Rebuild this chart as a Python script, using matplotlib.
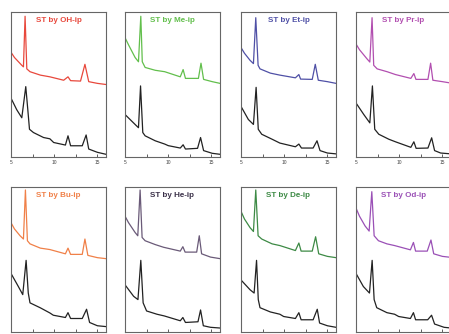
import matplotlib
matplotlib.use("Agg")
import matplotlib.pyplot as plt

plt.rcParams['font.family'] = ['Liberation Sans', 'DejaVu Sans']

titles = ["ST by OH-ip", "ST by Me-ip", "ST by Et-ip", "ST by Pr-ip",
          "ST by Bu-ip", "ST by He-ip", "ST by De-ip", "ST by Od-ip"]
colors = ["#e8483c", "#62bf4c", "#4f50a6", "#b24fb0",
          "#f08048", "#6a5a78", "#3d8a45", "#9a50b6"]
title_colors = ["#e8483c", "#62bf4c", "#4f50a6", "#b24fb0",
                "#f08048", "#3a3048", "#3d8a45", "#9a50b6"]

# colored (upper) traces: x (2-theta) and intensity
top_x = [
    [5, 5.4, 6.25, 6.44, 6.63, 6.83, 7.2, 8.4, 9.5, 11.1, 11.6, 11.9, 13.05, 13.56, 14.0, 15, 16],
    [5, 5.4, 6.17, 6.56, 6.83, 7.0, 7.33, 8.5, 9.6, 11.4, 11.73, 12.0, 13.5, 13.8, 14.1, 15.1, 16],
    [5, 5.4, 6.05, 6.44, 6.71, 6.98, 7.2, 8.4, 9.5, 11.3, 11.7, 11.9, 13.25, 13.6, 13.95, 15, 16],
    [5, 5.4, 6.28, 6.6, 6.86, 7.05, 7.45, 8.6, 9.57, 11.35, 11.7, 11.94, 13.33, 13.64, 13.9, 15, 16],
    [5, 5.4, 6.05, 6.44, 6.67, 6.9, 7.2, 8.4, 9.5, 11.3, 11.6, 11.9, 13.25, 13.56, 13.9, 15, 16],
    [5, 5.4, 6.17, 6.48, 6.75, 6.98, 7.33, 8.5, 9.47, 11.4, 11.7, 11.96, 13.3, 13.6, 13.87, 14.9, 16],
    [5, 5.4, 6.05, 6.44, 6.71, 6.98, 7.4, 8.6, 9.5, 11.3, 11.7, 11.96, 13.25, 13.64, 14.0, 15, 16],
    [5, 5.4, 6.05, 6.52, 6.83, 7.1, 7.6, 8.58, 9.47, 11.3, 11.65, 11.9, 13.25, 13.68, 14.0, 15, 16],
]
top_y = [
    [72.7, 69.0, 63.5, 62.4, 98, 61, 59, 56.6, 55.4, 53, 55.4, 52.7, 52.4, 64.2, 52, 50.8, 50],
    [83, 78, 69, 66, 98, 66, 62, 60, 59, 55.4, 60.5, 54.3, 54.3, 65, 53.6, 52, 50.8],
    [76, 72, 67, 64.7, 97, 63.5, 61, 58, 56.6, 54.7, 57, 53.8, 53.6, 64.2, 53, 52, 50.8],
    [78.5, 74.5, 68, 65.8, 97, 63.5, 61, 59, 57, 54.3, 57.7, 53.6, 53.6, 65, 53, 52, 51],
    [75.9, 71.5, 66.7, 64.4, 98.9, 63.2, 61, 58, 57, 54, 58, 53.6, 53.6, 64.4, 52.9, 51.3, 50.6],
    [80.5, 76, 69, 66.7, 98.9, 65.5, 63.2, 60.5, 58.6, 55.9, 59, 55.2, 55.2, 66.7, 54, 51.7, 50.6],
    [83.9, 78.5, 72.4, 69.7, 98.9, 66.7, 64.4, 61, 59.8, 56.3, 61.6, 55.9, 55.9, 66, 54, 52.2, 51.3],
    [86.2, 80.5, 73.6, 70, 97.7, 66.7, 63.2, 61, 59.8, 56.8, 62, 55.9, 55.9, 63.7, 54, 52.2, 51.5],
]

# black (lower) traces
bot_x = [
    [5, 5.66, 6.25, 6.71, 6.95, 7.14, 7.6, 8.77, 9.5, 9.94, 11.3, 11.6, 11.9, 13.25, 13.7, 14.0, 15, 16],
    [5, 6.17, 6.56, 6.8, 7.06, 7.33, 8.5, 9.6, 10.0, 11.4, 11.73, 12.0, 13.4, 13.75, 14.1, 15.1, 16],
    [5, 5.85, 6.44, 6.75, 7.0, 7.4, 8.6, 9.5, 11.3, 11.7, 12.0, 13.35, 13.8, 14.15, 15, 16],
    [5, 5.9, 6.6, 6.9, 7.17, 7.64, 8.8, 9.57, 11.35, 11.7, 11.96, 13.33, 13.76, 14.1, 14.8, 16],
    [5, 5.85, 6.36, 6.75, 7.0, 7.2, 8.4, 9.5, 9.9, 11.3, 11.6, 11.9, 13.25, 13.75, 14.1, 15, 16],
    [5, 6.0, 6.5, 6.83, 7.1, 7.5, 8.7, 9.55, 11.4, 11.7, 12.0, 13.45, 13.75, 14.07, 14.9, 16],
    [5, 6.05, 6.52, 6.8, 7.0, 7.2, 8.4, 9.5, 9.94, 11.3, 11.7, 11.96, 13.35, 13.83, 14.1, 15, 16],
    [5, 5.85, 6.56, 6.87, 7.1, 7.4, 8.58, 9.47, 9.94, 11.3, 11.65, 11.9, 13.3, 13.75, 14.1, 15.2, 16],
]
bot_y = [
    [40.4, 32.3, 26.6, 48.5, 32, 18.5, 16.2, 12.7, 11.8, 9.2, 7.4, 13.9, 6.9, 6.9, 14.5, 4.6, 2.3, 0.9],
    [28.9, 21.9, 19.6, 49, 16.2, 13.9, 10.4, 8.1, 7.0, 5.3, 7.6, 4.6, 5.1, 12.7, 3.5, 1.6, 0.9],
    [34.6, 25.4, 21.9, 48, 18.5, 15, 11.5, 8.8, 6.2, 8.1, 5.3, 5.3, 10.4, 3.5, 1.8, 1.2],
    [37, 28.9, 23, 49, 18.5, 15, 11.5, 9.7, 5.8, 9.7, 5.1, 5.3, 12.5, 3.5, 1.8, 1.2],
    [40.2, 31, 25.3, 49.4, 26.4, 19.5, 16, 12.4, 10.8, 9.2, 12.6, 8.5, 8.5, 15, 5.7, 3.4, 2.8],
    [32.2, 24.1, 21.8, 49.4, 19.5, 13.8, 11.5, 10.3, 6.9, 9.2, 5.7, 6.2, 14.5, 3.4, 2.3, 1.8],
    [35.6, 28.7, 26.4, 49.4, 21.8, 16.1, 13.1, 11.5, 9.9, 8.5, 12.6, 7.6, 7.6, 15, 5.3, 3.4, 2.3],
    [40.2, 31, 26.4, 49.4, 21.8, 16.1, 12.6, 11.5, 9.9, 8.5, 12.6, 7.6, 7.6, 10.8, 4.6, 2.3, 1.8],
]

xticks = [5, 7.5, 10, 12.5, 15]
xticklabels = ["5", "", "10", "", "15"]

W, H = 449, 334
fig = plt.figure(figsize=(W / 100, H / 100), dpi=100)

lefts = [11, 125, 241, 356]
tops = [12, 187]
aw, ah = 95, 145

for i in range(8):
    r, c = divmod(i, 4)
    ax = fig.add_axes([lefts[c] / W, 1 - (tops[r] + ah) / H, aw / W, ah / H])
    ax.plot(top_x[i], top_y[i], color=colors[i], lw=0.9)
    ax.plot(bot_x[i], bot_y[i], color="#222222", lw=0.9)
    ax.set_xlim(5, 16)
    ax.set_ylim(-1, 101)
    ax.set_yticks([])
    ax.set_xticks(xticks)
    if r == 0:
        ax.set_xticklabels(xticklabels)
    else:
        ax.set_xticklabels([])
    ax.tick_params(axis='x', direction='in', length=2, width=0.6,
                   labelsize=3.5, pad=2, colors="#444444")
    for s in ax.spines.values():
        s.set_color("#666666")
        s.set_linewidth(0.8)
    ax.text(0.5, 0.94, titles[i], transform=ax.transAxes, ha='center', va='center',
            fontsize=5.8, fontweight='bold', color=title_colors[i])

fig.savefig("out.png", dpi=100)
